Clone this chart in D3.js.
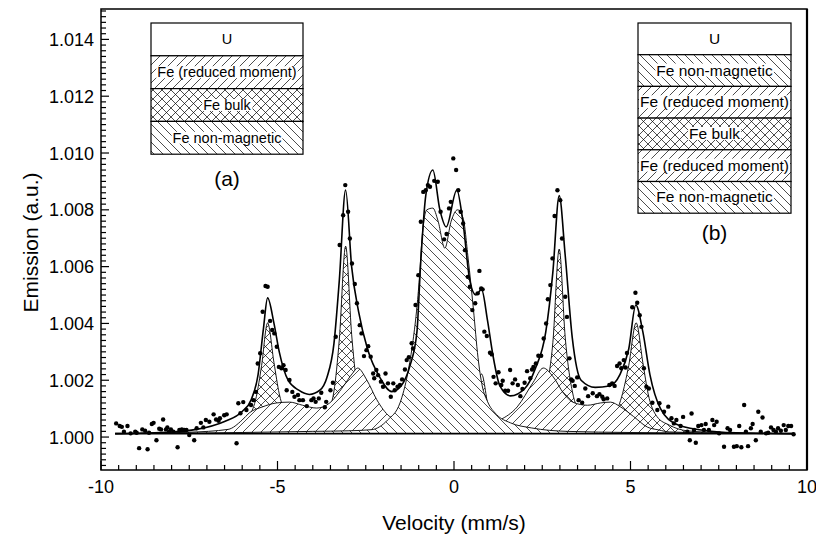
<!DOCTYPE html>
<html lang="en">
<head>
<meta charset="UTF-8">
<script src="https://d3js.org/d3.v7.min.js"></script>
<title>Emission spectrum</title>
<style>
  body{margin:0;background:#fff;}
  svg{display:block;font-family:"Liberation Sans",Arial,sans-serif;}
</style>
</head>
<body>
<svg id="chart" width="816" height="539"></svg>
<script>
// measured points [velocity mm/s, emission]
var measured = [
 [-9.57,1.00048],[-9.47,1.00039],[-9.41,1.00036],[-9.35,1.00019],[-9.25,1.00039],[-9.16,1.00013],[-9.03,1.00019],[-8.99,1.00015],
 [-8.92,0.99961],[-8.83,1.00027],[-8.75,1.00022],[-8.68,0.99957],[-8.64,1.00015],[-8.56,1.00046],[-8.51,1.0005],[-8.43,0.99989],
 [-8.35,1.00029],[-8.3,1.00027],[-8.24,1.00062],[-8.16,1.00027],[-8.12,1.00034],[-8.07,1.00019],[-8.02,1.00027],[-7.95,1.00019],
 [-7.83,0.99964],[-7.78,1.00025],[-7.71,1.00027],[-7.64,1.00025],[-7.58,1.00025],[-7.5,1.00007],[-7.36,0.99989],[-7.29,1.00031],
 [-7.17,1.0005],[-7.1,1.00034],[-7.03,1.0006],[-6.93,1.00054],[-6.81,1.0008],[-6.74,1.00062],[-6.67,1.00057],[-6.63,1.00066],
 [-6.51,1.00077],[-6.44,1.0008],[-6.16,0.99978],[-6.11,1.00119],[-6.05,1.00084],[-5.97,1.00123],[-5.88,1.00095],[-5.75,1.00113],
 [-5.68,1.0013],[-5.61,1.00159],[-5.56,1.00259],[-5.49,1.00295],[-5.42,1.00441],[-5.34,1.00532],[-5.28,1.00529],[-5.21,1.00409],
 [-5.15,1.00377],[-5.09,1.00365],[-5.02,1.00318],[-4.96,1.00247],[-4.89,1.00242],[-4.83,1.00253],[-4.77,1.00236],[-4.74,1.00165],
 [-4.66,1.00201],[-4.58,1.00159],[-4.52,1.00142],[-4.42,1.00148],[-4.38,1.0013],[-4.28,1.0013],[-4.17,1.00109],[-4.04,1.0013],
 [-3.98,1.00136],[-3.92,1.00124],[-3.83,1.00136],[-3.76,1.00156],[-3.66,1.00105],[-3.62,1.00124],[-3.5,1.00165],[-3.43,1.00191],
 [-3.35,1.00353],[-3.24,1.00676],[-3.14,1.00781],[-3.08,1.00887],[-3.0,1.00793],[-2.95,1.00699],[-2.89,1.00611],[-2.81,1.00539],
 [-2.75,1.00471],[-2.67,1.00394],[-2.62,1.00365],[-2.55,1.00285],[-2.48,1.00306],[-2.43,1.0032],[-2.36,1.00283],[-2.29,1.00224],
 [-2.26,1.00207],[-2.2,1.00236],[-2.15,1.00218],[-2.07,1.00195],[-2.01,1.00177],[-1.94,1.00224],[-1.87,1.00189],[-1.79,1.00142],
 [-1.72,1.00189],[-1.68,1.00165],[-1.6,1.00177],[-1.53,1.00183],[-1.47,1.00203],[-1.39,1.00238],[-1.34,1.00271],[-1.28,1.00281],
 [-1.2,1.0033],[-1.16,1.00312],[-1.09,1.00465],[-1.01,1.0057],[-0.94,1.00758],[-0.87,1.00863],[-0.8,1.00869],[-0.74,1.00887],
 [-0.68,1.00881],[-0.56,1.00902],[-0.46,1.00899],[-0.38,1.00793],[-0.28,1.00696],[-0.21,1.00715],[-0.14,1.00805],[-0.09,1.00828],
 [-0.02,1.00981],[0.06,1.0094],[0.12,1.00869],[0.19,1.00793],[0.26,1.00752],[0.31,1.00658],[0.39,1.00564],[0.45,1.00529],
 [0.52,1.00447],[0.6,1.00471],[0.67,1.00506],[0.72,1.00585],[0.77,1.00523],[0.81,1.0052],[0.86,1.00371],[0.93,1.00356],
 [1.02,1.00297],[1.07,1.00291],[1.12,1.00212],[1.18,1.00189],[1.26,1.00228],[1.34,1.00183],[1.38,1.00198],[1.45,1.00163],
 [1.53,1.00163],[1.59,1.00236],[1.66,1.00189],[1.73,1.00203],[1.81,1.00183],[1.88,1.00144],[1.94,1.00169],[2.0,1.00191],
 [2.07,1.00232],[2.16,1.00207],[2.21,1.00238],[2.25,1.00247],[2.32,1.00259],[2.39,1.00286],[2.47,1.00286],[2.54,1.00347],
 [2.61,1.004],[2.66,1.00485],[2.73,1.00535],[2.79,1.00629],[2.85,1.00778],[2.93,1.00869],[3.01,1.00834],[3.06,1.00699],
 [3.15,1.00494],[3.2,1.00423],[3.27,1.00277],[3.32,1.00203],[3.36,1.00198],[3.42,1.0018],[3.49,1.0021],[3.53,1.0013],
 [3.63,1.00121],[3.72,1.00171],[3.8,1.00144],[3.93,1.00154],[4.05,1.00144],[4.12,1.00151],[4.2,1.00142],[4.24,1.00133],
 [4.34,1.00136],[4.4,1.00183],[4.48,1.00189],[4.55,1.0018],[4.62,1.0025],[4.69,1.00259],[4.74,1.00242],[4.81,1.00271],
 [4.86,1.00245],[4.9,1.00296],[5.05,1.00457],[5.14,1.00508],[5.19,1.00473],[5.26,1.00429],[5.31,1.00388],[5.38,1.00242],
 [5.45,1.00177],[5.52,1.00171],[5.62,1.00121],[5.76,1.00095],[5.82,1.00119],[5.95,1.00089],[6.07,1.00107],[6.16,1.00066],
 [6.23,1.00048],[6.3,1.0006],[6.42,1.00039],[6.49,1.00071],[6.61,1.00019],[6.68,0.99989],[6.73,1.00083],[6.8,1.00025],
 [6.85,0.9998],[6.92,1.00039],[7.01,1.00042],[7.08,1.00025],[7.13,1.00046],[7.22,1.00025],[7.32,1.0006],[7.37,1.00042],
 [7.44,1.00054],[7.51,1.00013],[7.65,0.99966],[7.75,1.00031],[7.82,1.00025],[7.93,0.99966],[8.01,0.99968],[8.08,1.00039],
 [8.14,0.99964],[8.22,1.00113],[8.27,1.00019],[8.33,0.99968],[8.41,1.00031],[8.46,1.00046],[8.55,0.99989],[8.62,1.00089],
 [8.69,1.00019],[8.74,1.00069],[8.84,1.00013],[8.9,1.00015],[8.98,1.00034],[9.05,1.00025],[9.12,1.00019],[9.18,1.00031],
 [9.26,1.00022],[9.34,1.00042],[9.4,1.00025],[9.47,1.00039],[9.55,1.00039],[9.62,1.0001]
];

// fitted total curve
var fitTotal = [
 [-9.6,1.00012],[-8.0,1.00018],[-7.3,1.00027],[-6.5,1.00055],[-6.0,1.0009],[-5.75,1.0013],[-5.55,1.0022],[-5.4,1.0038],
 [-5.28,1.0049],[-5.1,1.004],[-4.95,1.003],[-4.7,1.002],[-4.4,1.00165],[-4.1,1.0015],[-3.8,1.00165],[-3.6,1.0021],
 [-3.4,1.0033],[-3.25,1.0055],[-3.07,1.0087],[-2.9,1.006],[-2.7,1.0044],[-2.45,1.0031],[-2.1,1.0021],[-1.76,1.0016],
 [-1.5,1.0018],[-1.25,1.0025],[-1.05,1.0037],[-0.95,1.006],[-0.8,1.0085],[-0.6,1.0094],[-0.4,1.008],[-0.22,1.0074],
 [0.08,1.0087],[0.25,1.0076],[0.45,1.0055],[0.62,1.005],[0.78,1.0052],[0.95,1.0041],[1.1,1.0029],[1.3,1.0018],
 [1.6,1.00145],[2.0,1.0017],[2.3,1.0024],[2.6,1.0037],[2.8,1.0058],[2.98,1.0085],[3.15,1.0064],[3.35,1.0035],
 [3.6,1.002],[4.0,1.00175],[4.4,1.0018],[4.7,1.0022],[4.95,1.0031],[5.15,1.00465],[5.35,1.0037],[5.55,1.0022],
 [5.85,1.001],[6.3,1.00045],[7.0,1.00025],[8.0,1.00015],[9.63,1.00012]
];

// Fe bulk sextet
var feBulk = [
 [-9.6,1.00012],[-7,1.00016],[-6.5,1.00022],[-6.0,1.00042],[-5.8,1.00072],[-5.6,1.00142],[-5.45,1.00252],[-5.28,1.00402],
 [-5.1,1.00262],[-4.95,1.00152],[-4.7,1.00072],[-4.4,1.00042],[-4.1,1.00037],[-3.8,1.00052],[-3.6,1.00082],[-3.4,1.00162],
 [-3.25,1.00342],[-3.07,1.00672],[-2.9,1.00362],[-2.75,1.00182],[-2.5,1.00082],[-2.0,1.00042],[-1.4,1.00052],[-1.1,1.00092],
 [-0.85,1.00222],[-0.6,1.00092],[-0.3,1.00052],[0,1.00042],[0.3,1.00052],[0.55,1.00092],[0.78,1.00222],[1.0,1.00092],
 [1.3,1.00052],[1.8,1.00042],[2.3,1.00072],[2.6,1.00162],[2.8,1.00332],[2.98,1.00662],[3.15,1.00352],[3.35,1.00162],
 [3.6,1.00082],[4.0,1.00052],[4.5,1.00072],[4.75,1.00142],[4.95,1.00252],[5.16,1.00402],[5.35,1.00262],[5.5,1.00152],
 [5.75,1.00072],[6.1,1.00042],[6.6,1.00022],[7.5,1.00016],[9.6,1.00012]
];

// Fe reduced moment sextet
var feReduced = [
 [-9.6,1.00012],[-7.5,1.00017],[-6.4,1.00027],[-6.0,1.0006],[-5.8,1.00085],[-5.43,1.00106],[-5.03,1.0012],[-4.66,1.00123],
 [-4.29,1.00112],[-3.89,1.00102],[-3.52,1.0012],[-3.15,1.00176],[-2.87,1.00225],[-2.73,1.00243],[-2.47,1.00201],[-2.19,1.00132],
 [-1.82,1.00072],[-1.6,1.0006],[-1.2,1.00032],[-0.5,1.00022],[0.5,1.00025],[1.0,1.00045],[1.3,1.0006],[1.79,1.00106],
 [2.24,1.00192],[2.53,1.00243],[2.81,1.00212],[3.1,1.00155],[3.38,1.00122],[3.78,1.00112],[4.15,1.0012],[4.43,1.00123],
 [4.72,1.00106],[5.09,1.00072],[5.48,1.00035],[5.8,1.00025],[6.1,1.00018],[7.5,1.00014],[9.6,1.00012]
];

// Fe non-magnetic doublet
var feNonMag = [
 [-9.6,1.00012],[-6,1.00016],[-4,1.0002],[-3,1.00022],[-2.33,1.00026],[-1.88,1.0006],[-1.53,1.0012],[-1.31,1.00225],
 [-1.16,1.0034],[-1.05,1.00458],[-0.97,1.00577],[-0.91,1.00694],[-0.77,1.008],[-0.6,1.00806],[-0.45,1.0076],[-0.26,1.00665],
 [-0.08,1.0076],[0.1,1.008],[0.26,1.0077],[0.4,1.0063],[0.55,1.0045],[0.68,1.0028],[0.8,1.0018],[0.95,1.00125],
 [1.2,1.0008],[1.6,1.0005],[2.2,1.00032],[3.2,1.0002],[5,1.00016],[9.6,1.00012]
];
var baseLevel = 1.00012;

var legendA = ["U", "Fe (reduced moment)", "Fe bulk", "Fe non-magnetic"];
var legendAFill = ["none", "slash", "cross", "back"];
var legendB = ["U", "Fe non-magnetic", "Fe (reduced moment)", "Fe bulk", "Fe (reduced moment)", "Fe non-magnetic"];
var legendBFill = ["none", "back", "slash", "cross", "slash", "back"];

var xTicks = [-10, -5, 0, 5, 10];
var yTicks = [1.000, 1.002, 1.004, 1.006, 1.008, 1.010, 1.012, 1.014];

var svg = d3.select("#chart");
var mLeft = 101, mRight = 807, mTop = 9, mBottom = 470;

var x = d3.scaleLinear().domain([-10, 10]).range([mLeft, mRight]);
var y = d3.scaleLinear().domain([0.99884, 1.01507]).range([mBottom, mTop]);

// hatch patterns
var defs = svg.append("defs");
function hatch(id, d) {
  var p = defs.append("pattern").attr("id", id).attr("patternUnits", "userSpaceOnUse")
    .attr("width", 9).attr("height", 9);
  p.append("rect").attr("width", 9).attr("height", 9).attr("fill", "#fff");
  p.append("path").attr("d", d).attr("stroke", "#000").attr("stroke-width", 0.7).attr("fill", "none");
}
hatch("slash", "M0,9L9,0M-2,2L2,-2M7,11L11,7");
hatch("back", "M0,0L9,9M-2,7L2,11M7,-2L11,2");
hatch("cross", "M0,0L9,9M0,9L9,0");
defs.append("clipPath").attr("id", "plotClip").append("rect")
  .attr("x", mLeft).attr("y", mTop).attr("width", mRight - mLeft).attr("height", mBottom - mTop);

var plot = svg.append("g").attr("clip-path", "url(#plotClip)");

var area = d3.area().x(function(d){ return x(d[0]); }).y0(y(baseLevel))
  .y1(function(d){ return y(d[1]); }).curve(d3.curveMonotoneX);
var line = d3.line().x(function(d){ return x(d[0]); }).y(function(d){ return y(d[1]); })
  .curve(d3.curveMonotoneX);

[[feBulk, "cross"], [feReduced, "slash"], [feNonMag, "back"]].forEach(function(c){
  plot.append("path").datum(c[0]).attr("d", area).attr("fill", "url(#" + c[1] + ")");
  plot.append("path").datum(c[0]).attr("d", line).attr("fill", "none")
    .attr("stroke", "#000").attr("stroke-width", 0.9);
});

plot.append("line").attr("x1", x(feBulk[0][0])).attr("x2", x(feBulk[feBulk.length-1][0]))
  .attr("y1", y(baseLevel)).attr("y2", y(baseLevel)).attr("stroke", "#000").attr("stroke-width", 1.8);

plot.append("path").datum(fitTotal).attr("d", line).attr("fill", "none")
  .attr("stroke", "#000").attr("stroke-width", 1.6);

plot.selectAll("circle.pt").data(measured).enter().append("circle").attr("class", "pt")
  .attr("cx", function(d){ return x(d[0]); }).attr("cy", function(d){ return y(d[1]); })
  .attr("r", 2.2).attr("fill", "#000");

// frame
svg.append("rect").attr("x", mLeft).attr("y", mTop).attr("width", mRight - mLeft).attr("height", mBottom - mTop)
  .attr("fill", "none").attr("stroke", "#000").attr("stroke-width", 1.5);
svg.append("line").attr("x1", mRight).attr("x2", mRight).attr("y1", mTop).attr("y2", mBottom)
  .attr("stroke", "#000").attr("stroke-width", 2.2);

// inward ticks
var axes = svg.append("g").attr("stroke", "#000").attr("stroke-width", 1.2);
d3.range(-20, 21).forEach(function(k){
  var major = k % 10 === 0;
  var xv = x(k * 0.5);
  axes.append("line").attr("x1", xv).attr("x2", xv).attr("y1", mBottom).attr("y2", mBottom - (major ? 9 : 5));
});
d3.range(4995, 5076).forEach(function(k){
  var v = k * 0.0002;
  var yv = y(v);
  if (yv < mTop || yv > mBottom) return;
  var major = k % 10 === 0;
  axes.append("line").attr("x1", mLeft).attr("x2", mLeft + (major ? 8 : 5)).attr("y1", yv).attr("y2", yv);
});

svg.selectAll("text.xt").data(xTicks).enter().append("text").attr("class", "xt")
  .attr("x", function(d){ return x(d); }).attr("y", mBottom + 23).attr("text-anchor", "middle")
  .attr("font-size", 18).text(function(d){ return d; });
svg.selectAll("text.yt").data(yTicks).enter().append("text").attr("class", "yt")
  .attr("x", mLeft - 7).attr("y", function(d){ return y(d) + 6.5; }).attr("text-anchor", "end")
  .attr("font-size", 18).text(function(d){ return d3.format(".3f")(d); });

svg.append("text").attr("x", x(0)).attr("y", 530).attr("text-anchor", "middle")
  .attr("font-size", 21).text("Velocity (mm/s)");
svg.append("text").attr("transform", "translate(38," + ((mTop + mBottom) / 2 + 3) + ") rotate(-90)")
  .attr("text-anchor", "middle").attr("font-size", 21).text("Emission (a.u.)");

// legends
function legend(labels, fills, x0, y0, w, h, fs, tag, tagY) {
  var g = svg.append("g");
  labels.forEach(function(t, i){
    var ry = y0 + i * h;
    g.append("rect").attr("x", x0).attr("y", ry).attr("width", w).attr("height", h)
      .attr("fill", fills[i] === "none" ? "#fff" : "url(#" + fills[i] + ")")
      .attr("stroke", "#000").attr("stroke-width", 1.2);
    var bg = g.append("rect").attr("fill", "#fff");
    var tx = g.append("text").attr("x", x0 + w / 2).attr("y", ry + h / 2 + 5)
      .attr("text-anchor", "middle").attr("font-size", fs).text(t);
    var b = tx.node().getBBox();
    if (fills[i] !== "none") bg.attr("x", b.x - 1).attr("y", b.y + 2).attr("width", b.width + 2).attr("height", b.height - 4);
  });
  svg.append("text").attr("x", x0 + w / 2).attr("y", tagY).attr("text-anchor", "middle")
    .attr("font-size", 21).text(tag);
}
legend(legendA, legendAFill, 151, 23, 152, 32.8, 14.5, "(a)", 186);
legend(legendB, legendBFill, 638, 23, 153, 31.7, 15.5, "(b)", 240);
</script>
</body>
</html>
